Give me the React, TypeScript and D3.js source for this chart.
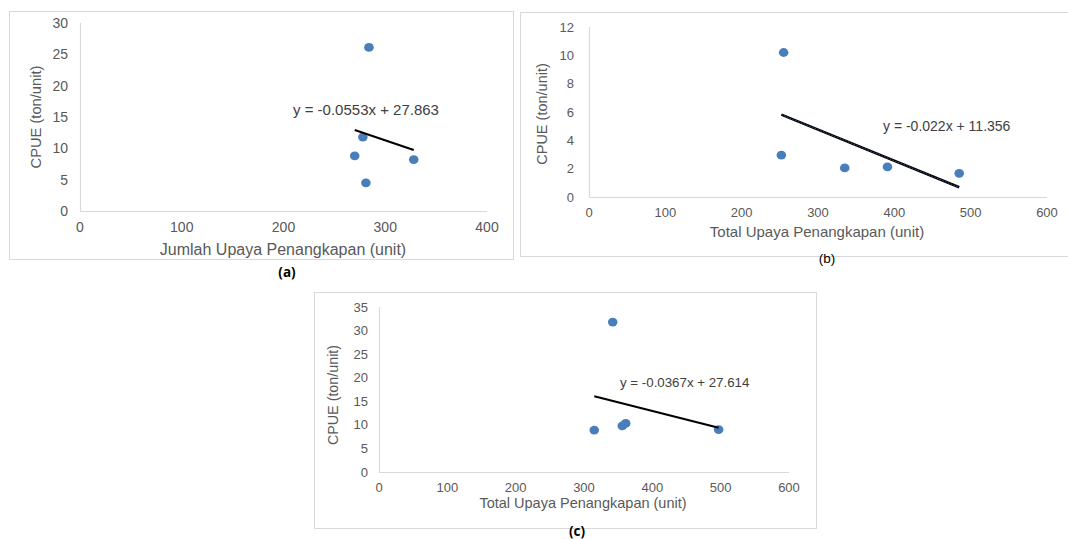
import React from 'react';
import * as d3 from 'd3';

// ---------- data ----------
const effortA = [284, 278, 270, 328, 281];
const cpueA = [26.1, 11.8, 8.8, 8.2, 4.5];
const trendA = [-0.0553, 27.863];

const effortB = [255, 252, 335, 391, 485];
const cpueB = [10.2, 2.96, 2.05, 2.13, 1.67];
const trendB = [-0.022, 11.356];

const effortC = [342, 315, 356, 361, 497];
const cpueC = [31.8, 8.9, 9.8, 10.3, 9.0];
const trendC = [-0.0367, 27.614];

const xTicksA = [0, 100, 200, 300, 400];
const yTicksA = [0, 5, 10, 15, 20, 25, 30];
const xTicksB = [0, 100, 200, 300, 400, 500, 600];
const yTicksB = [0, 2, 4, 6, 8, 10, 12];
const xTicksC = [0, 100, 200, 300, 400, 500, 600];
const yTicksC = [0, 5, 10, 15, 20, 25, 30, 35];

const equations = ['y = -0.0553x + 27.863', 'y = -0.022x + 11.356', 'y = -0.0367x + 27.614'];
const xTitles = ['Jumlah Upaya Penangkapan (unit)', 'Total Upaya Penangkapan (unit)', 'Total Upaya Penangkapan (unit)'];
const yTitle = 'CPUE (ton/unit)';
const captions = ['(a)', '(b)', '(c)'];

// ---------- layout ----------
const FONT = "'Liberation Sans', Arial, sans-serif";
const GREY = '#595959';
const AXIS = '#d9d9d9';
const DOT = '#4a7ebb';

type Panel = {
  xs: number[]; ys: number[]; trend: number[]; xTicks: number[]; yTicks: number[];
  eq: string; xTitle: string; caption: string;
  frame: [number, number, number, number];
  xr: [number, number]; yr: [number, number];
  tickFont: number; xTickDy: number; yTickGap: number;
  xt: [number, number, number]; yt: [number, number, number]; eqPos: [number, number, number];
  cap: [number, number, boolean];
  dotted: boolean;
};

const panels: Panel[] = [
  {
    xs: effortA, ys: cpueA, trend: trendA, xTicks: xTicksA, yTicks: yTicksA,
    eq: equations[0], xTitle: xTitles[0], caption: captions[0],
    frame: [9, 11, 504, 248], xr: [80, 487], yr: [211, 23],
    tickFont: 14, xTickDy: 16, yTickGap: 12,
    xt: [283, 249, 16], yt: [36, 117, 14.7], eqPos: [293, 109, 15],
    cap: [287, 272, true], dotted: false,
  },
  {
    xs: effortB, ys: cpueB, trend: trendB, xTicks: xTicksB, yTicks: yTicksB,
    eq: equations[1], xTitle: xTitles[1], caption: captions[1],
    frame: [520, 12, 560, 244], xr: [589, 1047], yr: [197, 27],
    tickFont: 13, xTickDy: 15, yTickGap: 15,
    xt: [817, 231, 15], yt: [542, 114, 14.5], eqPos: [883, 126, 14],
    cap: [827, 258, false], dotted: true,
  },
  {
    xs: effortC, ys: cpueC, trend: trendC, xTicks: xTicksC, yTicks: yTicksC,
    eq: equations[2], xTitle: xTitles[2], caption: captions[2],
    frame: [314, 292, 502, 236], xr: [379, 789], yr: [472, 307],
    tickFont: 13, xTickDy: 15, yTickGap: 11,
    xt: [583, 503, 14.5], yt: [333, 395, 14.3], eqPos: [620, 382, 13.3],
    cap: [577, 531, true], dotted: false,
  },
];

function ScatterPanel({ p }: { p: Panel }) {
  const x = d3.scaleLinear().domain([p.xTicks[0], p.xTicks[p.xTicks.length - 1]]).range(p.xr);
  const y = d3.scaleLinear().domain([p.yTicks[0], p.yTicks[p.yTicks.length - 1]]).range(p.yr);
  const [fx, fy, fw, fh] = p.frame;
  const xmin = d3.min(p.xs) as number;
  const xmax = d3.max(p.xs) as number;
  const trendPts: [number, number][] = [xmin, xmax].map((v) => [v, p.trend[0] * v + p.trend[1]]);
  const line = d3.line<[number, number]>().x((d) => x(d[0])).y((d) => y(d[1]));
  const path = line(trendPts) || '';
  return (
    <g>
      <rect x={fx + 0.5} y={fy + 0.5} width={fw} height={fh} fill="#fff" stroke={AXIS} strokeWidth={1} />
      {/* axes */}
      <line x1={x.range()[0]} x2={x.range()[1]} y1={y(0) + 0.5} y2={y(0) + 0.5} stroke={AXIS} strokeWidth={1.2} />
      <line x1={x(0) + 0.5} x2={x(0) + 0.5} y1={y.range()[0]} y2={y.range()[1]} stroke={AXIS} strokeWidth={1.2} />
      {p.xTicks.map((t) => (
        <text key={'x' + t} x={x(t)} y={y(0) + p.xTickDy} textAnchor="middle" dominantBaseline="central"
          fontSize={p.tickFont} fill={GREY} fontFamily={FONT}>{t}</text>
      ))}
      {p.yTicks.map((t) => (
        <text key={'y' + t} x={x(0) - p.yTickGap} y={y(t)} textAnchor="end" dominantBaseline="central"
          fontSize={p.tickFont} fill={GREY} fontFamily={FONT}>{t}</text>
      ))}
      <text x={p.xt[0]} y={p.xt[1]} textAnchor="middle" dominantBaseline="central" fontSize={p.xt[2]}
        fill={GREY} fontFamily={FONT}>{p.xTitle}</text>
      <text transform={`translate(${p.yt[0]},${p.yt[1]}) rotate(-90)`} textAnchor="middle" dominantBaseline="central"
        fontSize={p.yt[2]} fill={GREY} fontFamily={FONT}>{yTitle}</text>
      {/* points */}
      {p.xs.map((v, i) => (
        <ellipse key={'p' + i} cx={x(v)} cy={y(p.ys[i])} rx={4.8} ry={4.4} fill={DOT} />
      ))}
      {/* trend */}
      <path d={path} stroke="#000" strokeWidth={p.dotted ? 2.6 : 2} fill="none" />
      {p.dotted && <path d={path} stroke="#3b5680" strokeWidth={1} strokeDasharray="1.5,1.5" fill="none" />}
      <text x={p.eqPos[0]} y={p.eqPos[1]} dominantBaseline="central" fontSize={p.eqPos[2]} fill="#404040"
        fontFamily={FONT}>{p.eq}</text>
      <text x={p.cap[0]} y={p.cap[1]} textAnchor="middle" dominantBaseline="central" fontSize={13.5}
        fontWeight={p.cap[2] ? 'bold' : 'normal'} fill="#000"
        fontFamily={p.cap[2] ? "'Open Sans', sans-serif" : FONT}>{p.caption}</text>
    </g>
  );
}

export default function App() {
  return (
    <svg width={1068} height={539} style={{ position: 'absolute', left: 0, top: 0, display: 'block', background: '#fff' }}>
      <rect x={0} y={0} width={1068} height={539} fill="#fff" />
      {panels.map((p, i) => <ScatterPanel key={i} p={p} />)}
    </svg>
  );
}
